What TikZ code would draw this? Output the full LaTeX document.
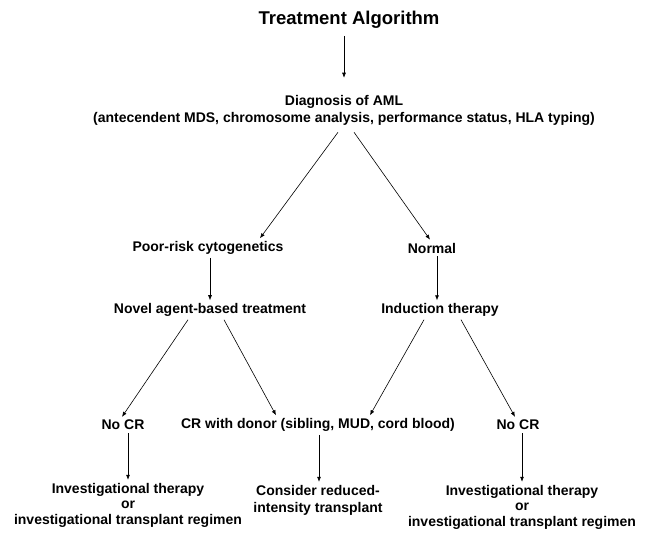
\documentclass[tikz,border=0pt]{standalone}
\usepackage{fontspec}
\setmainfont{Liberation Sans}
\usepackage{tikz}
\usetikzlibrary{arrows.meta, calc}

\begin{document}
\begin{tikzpicture}[x=1pt, y=-1pt,
  lbl/.style={font=\fontsize{14}{15.5}\selectfont\bfseries, align=center, inner sep=3pt},
  ttl/.style={font=\fontsize{18.5}{20}\selectfont\bfseries, inner sep=3pt},
  arr/.style={-{Latex[length=5pt,width=4pt]}, line width=0.6pt}]
  \useasboundingbox (0,0) rectangle (650,533);
  % nodes
  \node[ttl] (title) at (349,20) {Treatment Algorithm};
  \node[lbl] (diag) at (344,110) {Diagnosis of AML\\[1.5pt](antecendent MDS, chromosome analysis, performance status, HLA typing)};
  \node[lbl] (poor) at (208,248) {Poor-risk cytogenetics};
  \node[lbl] (norm) at (432,248) {Normal};
  \node[lbl] (novel) at (210,310) {Novel agent-based treatment};
  \node[lbl] (induct) at (440,310) {Induction therapy};
  \node[lbl] (nocrL) at (123,425) {No CR};
  \node[lbl] (crdon) at (318,425) {CR with donor (sibling, MUD, cord blood)};
  \node[lbl] (nocrR) at (518,425) {No CR};
  \node[lbl] (invL) at (128,505) {Investigational therapy\\or\\investigational transplant regimen};
  \node[lbl] (rit) at (318,500) {Consider reduced-\\[1.5pt]intensity transplant};
  \node[lbl] (invR) at (522,507) {Investigational therapy\\or\\investigational transplant regimen};
  % connectors
  \draw[arr, shorten <=4pt, shorten >=14pt] (title.south -| diag.north) -- (diag.north);
  \draw[arr] ([xshift=-6pt,yshift=-4pt]diag.south) -- ([xshift=52pt]poor.north);
  \draw[arr] ([xshift=10pt,yshift=-4pt]diag.south) -- ([xshift=-2pt]norm.north);
  \draw[arr] (poor.south -| novel.north) -- (novel.north);
  \draw[arr] ([xshift=5pt]norm.south) -- ([xshift=-3pt]induct.north);
  \draw[arr] ([xshift=-22pt]novel.south) -- ([xshift=-1pt]nocrL.north);
  \draw[arr] ([xshift=14pt]novel.south) -- ([xshift=-42pt]crdon.north);
  \draw[arr] ([xshift=-16pt]induct.south) -- ([xshift=52pt]crdon.north);
  \draw[arr] ([xshift=21pt]induct.south) -- ([xshift=-3pt]nocrR.north);
  \draw[arr] (nocrL.south -| invL.north) -- (invL.north);
  \draw[arr] ([xshift=1pt]crdon.south) -- ([xshift=1pt]rit.north);
  \draw[arr] (nocrR.south -| invR.north) -- (invR.north);
\end{tikzpicture}
\end{document}
